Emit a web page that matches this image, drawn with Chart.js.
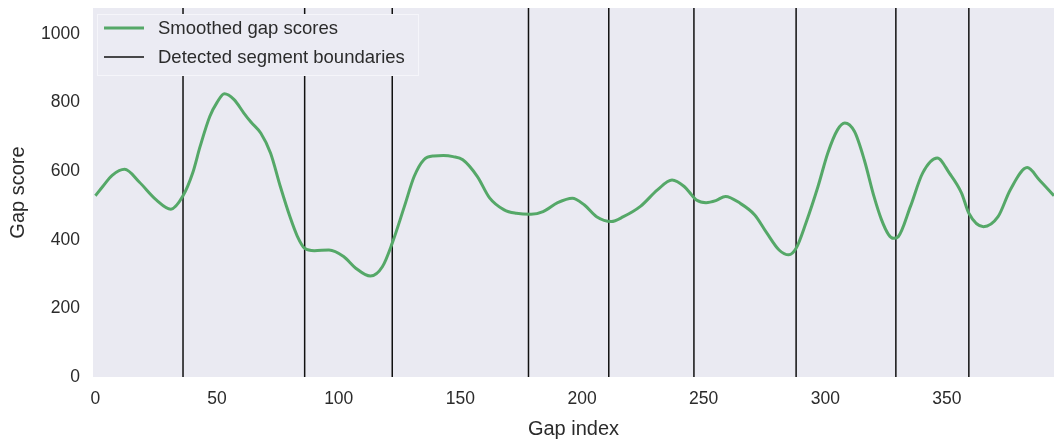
<!DOCTYPE html>
<html><head><meta charset="utf-8">
<script src="https://cdn.jsdelivr.net/npm/chart.js@4.4.0/dist/chart.umd.min.js"></script>
<style>html,body{margin:0;padding:0;background:#fff;}canvas{display:block;}</style>
</head><body>
<canvas id="c" width="1054" height="441"></canvas>
<script>
const gapIndex = [0,3,7,12,18,25,31,36,40,43,47,50,53,57,61,64,68,72,76,80,83,86,90,96,102,107,113,118,122,127,131,135,139,143,147,151,157,162,168,173,179,184,190,196,201,206,212,217,224,231,237,242,245,247,251,255,259,265,271,276,281,285,288,292,297,301,305,308,312,316,320,323,326,328,330,335,340,346,351,356,359,365,371,376,383,388,394];
const gapScore = [528,555,588,605,568,516,489,528,595,671,759,800,825,808,769,742,710,652,555,466,410,375,368,370,351,317,294,322,390,497,584,633,644,645,642,633,584,522,487,477,474,482,508,521,501,467,453,467,497,545,574,555,531,516,508,514,526,506,472,419,370,356,375,448,555,652,720,740,715,633,526,460,415,404,409,497,594,638,594,536,477,438,467,545,610,574,528];
const boundaries = [36, 86, 122, 178, 211, 246, 288, 329, 359];
const xTicks = [0, 50, 100, 150, 200, 250, 300, 350];
const yTicks = [0, 200, 400, 600, 800, 1000];
const seriesLabels = ['Smoothed gap scores', 'Detected segment boundaries'];
const xTitle = 'Gap index';
const yTitle = 'Gap score';
const X_MIN = -1, X_MAX = 394, Y_MIN = 0, Y_MAX = 1075;

const FONT = '"Liberation Sans", Arial, sans-serif';
const TEXT = '#2b2b2b';

const scoreData = gapIndex.map((x, i) => ({x: x, y: gapScore[i]}));
const boundaryData = [];
boundaries.forEach(b => {
  boundaryData.push({x: b, y: Y_MIN}, {x: b, y: Y_MAX}, {x: b, y: null});
});

const bgPlugin = {
  id: 'bg',
  beforeDraw(chart) {
    const {ctx, chartArea: a} = chart;
    ctx.save();
    ctx.fillStyle = '#EAEAF2';
    ctx.fillRect(a.left, a.top, a.right - a.left, a.bottom - a.top);
    ctx.restore();
  }
};

const legendPlugin = {
  id: 'inLegend',
  afterDatasetsDraw(chart) {
    const {ctx, chartArea: a} = chart;
    const ds = chart.data.datasets;
    const x0 = a.left + 4, y0 = a.top + 6, w = 322, h = 62;
    ctx.save();
    ctx.fillStyle = 'rgba(235,235,243,1)';
    ctx.fillRect(x0, y0, w, h);
    ctx.strokeStyle = 'rgba(245,245,250,1)';
    ctx.lineWidth = 1;
    ctx.strokeRect(x0 + 0.5, y0 + 0.5, w - 1, h - 1);
    ctx.font = '18.5px ' + FONT;
    ctx.textBaseline = 'middle';
    ctx.fillStyle = TEXT;
    const rows = [y0 + 14, y0 + 43];
    ds.forEach((d, i) => {
      ctx.beginPath();
      ctx.strokeStyle = d.borderColor;
      ctx.lineWidth = d.borderWidth;
      ctx.moveTo(x0 + 7, rows[i]);
      ctx.lineTo(x0 + 47, rows[i]);
      ctx.stroke();
      ctx.fillText(d.label, x0 + 61, rows[i] + 1);
    });
    ctx.restore();
  }
};

new Chart(document.getElementById('c'), {
  type: 'line',
  data: {
    datasets: [
      {label: seriesLabels[0], data: scoreData, borderColor: '#55A868', borderWidth: 3,
       pointRadius: 0, cubicInterpolationMode: 'monotone', fill: false},
      {label: seriesLabels[1], data: boundaryData, borderColor: '#111111', borderWidth: 1.5,
       pointRadius: 0, tension: 0, spanGaps: false, fill: false}
    ]
  },
  options: {
    responsive: false,
    animation: false,
    devicePixelRatio: 1,
    layout: {padding: {top: 8, right: 0, left: 0, bottom: 0}},
    plugins: {legend: {display: false}, tooltip: {enabled: false}},
    scales: {
      x: {
        type: 'linear', min: X_MIN, max: X_MAX,
        grid: {display: false, drawTicks: false},
        border: {display: false},
        afterBuildTicks(s) { s.ticks = xTicks.map(v => ({value: v})); },
        afterFit(s) { s.height = 64; s.paddingLeft = 0; s.paddingRight = 0; },
        ticks: {color: TEXT, font: {family: FONT, size: 17.5}, padding: 12, maxRotation: 0,
                callback: v => String(v)},
        title: {display: true, text: xTitle, color: TEXT, font: {family: FONT, size: 20}, padding: {top: 0, bottom: 0}}
      },
      y: {
        type: 'linear', min: Y_MIN, max: Y_MAX,
        grid: {display: false, drawTicks: false},
        border: {display: false},
        afterBuildTicks(s) { s.ticks = yTicks.map(v => ({value: v})); },
        afterFit(s) { s.width = 93; s.paddingTop = 0; s.paddingBottom = 0; },
        ticks: {color: TEXT, font: {family: FONT, size: 17.5}, padding: 13,
                callback: v => String(v)},
        title: {display: true, text: yTitle, color: TEXT, font: {family: FONT, size: 20}, padding: {top: 6, bottom: 0}}
      }
    }
  },
  plugins: [bgPlugin, legendPlugin]
});
</script>
</body></html>
